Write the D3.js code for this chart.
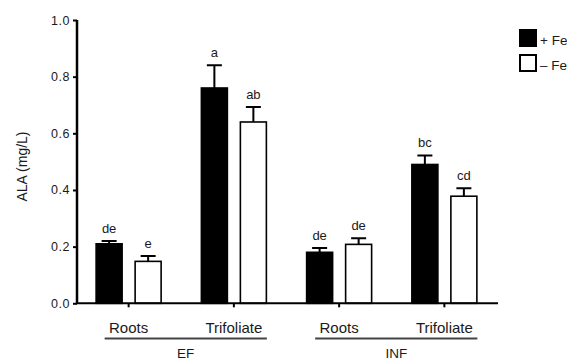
<!DOCTYPE html>
<html>
<head>
<meta charset="utf-8">
<script src="https://cdn.jsdelivr.net/npm/d3@7"></script>
<style>
  body { margin: 0; background: #fff; }
  svg text { font-family: "Liberation Sans", Arial, Helvetica, sans-serif; fill: #1a1a1a; }
</style>
</head>
<body>
<div id="chart"></div>
<script>
// chart values
var plantParts = ["Roots", "Trifoliate", "Roots", "Trifoliate"];
var treatments = ["EF", "EF", "INF", "INF"];
var seriesNames = ["+ Fe", "\u2013 Fe"];
var plusFe = [0.21, 0.76, 0.18, 0.49];
var plusFeErr = [0.010, 0.080, 0.015, 0.032];
var minusFe = [0.148, 0.64, 0.208, 0.378];
var minusFeErr = [0.019, 0.053, 0.022, 0.028];
var plusFeLetters = ["de", "a", "de", "bc"];
var minusFeLetters = ["e", "ab", "de", "cd"];
var yTicks = [0, 0.2, 0.4, 0.6, 0.8, 1.0];

var svgWidth = 567;
var svgHeight = 362;

var svg = d3.select("#chart")
  .append("svg")
  .attr("width", svgWidth)
  .attr("height", svgHeight);

var keys = plantParts.map(function(p, i) { return treatments[i] + " " + p; });

var x = d3.scaleBand()
  .domain(keys)
  .range([76, 497]);

var xInner = d3.scaleBand()
  .domain(seriesNames)
  .range([-32.5, 32.5])
  .paddingInner(1 / 3);

var y = d3.scaleLinear()
  .domain([0, 1])
  .range([303.3, 20]);

// build rows for bars
var rows = [];
keys.forEach(function(k, i) {
  rows.push({ key: k, series: seriesNames[0], value: plusFe[i], err: plusFeErr[i], letter: plusFeLetters[i], fill: "#000" });
  rows.push({ key: k, series: seriesNames[1], value: minusFe[i], err: minusFeErr[i], letter: minusFeLetters[i], fill: "#fff" });
});

var barX = function(d) { return x(d.key) + x.bandwidth() / 2 + xInner(d.series); };
var barMid = function(d) { return barX(d) + xInner.bandwidth() / 2; };

// error bars
svg.selectAll(".err")
  .data(rows)
  .enter()
  .append("path")
  .attr("class", "err")
  .attr("d", function(d) {
    var top = y(d.value + d.err);
    var m = barMid(d);
    return "M" + m + "," + y(d.value) + "V" + top + "M" + (m - 7.5) + "," + top + "H" + (m + 7.5);
  })
  .attr("stroke", "#000")
  .attr("stroke-width", 2)
  .attr("fill", "none");

// bars
svg.selectAll(".bar")
  .data(rows)
  .enter()
  .append("rect")
  .attr("class", "bar")
  .attr("x", barX)
  .attr("y", function(d) { return y(d.value); })
  .attr("width", xInner.bandwidth())
  .attr("height", function(d) { return y(0) - y(d.value); })
  .attr("fill", function(d) { return d.fill; })
  .attr("stroke", "#000")
  .attr("stroke-width", 1.6);

// significance letters
svg.selectAll(".letter")
  .data(rows)
  .enter()
  .append("text")
  .attr("class", "letter")
  .attr("x", barMid)
  .attr("y", function(d) { return y(d.value + d.err) - 8; })
  .attr("text-anchor", "middle")
  .attr("font-size", "13px")
  .text(function(d) { return d.letter; });

// y axis
var leftAxis = d3.axisLeft(y)
  .tickValues(yTicks)
  .tickFormat(d3.format(".1f"))
  .tickSize(4)
  .tickPadding(3);

var yAxisG = svg.append("g")
  .attr("transform", "translate(77,0)")
  .call(leftAxis);
yAxisG.select(".domain").attr("stroke-width", 2.5).attr("d", "M0," + y(1) + "V" + y(0));
yAxisG.selectAll(".tick line").attr("stroke-width", 2);
yAxisG.selectAll(".tick text")
  .attr("font-size", "12.5px")
  .attr("letter-spacing", "0.5px")
  .attr("fill", "#1a1a1a");

// x axis
var bottomAxis = d3.axisBottom(x)
  .tickSize(4)
  .tickFormat("");

var xAxisG = svg.append("g")
  .attr("transform", "translate(0," + y(0) + ")")
  .call(bottomAxis);
xAxisG.select(".domain").attr("stroke-width", 2).attr("d", "M76,0H498");
xAxisG.selectAll(".tick line").attr("stroke-width", 2);

// category labels
svg.selectAll(".part")
  .data(keys)
  .enter()
  .append("text")
  .attr("class", "part")
  .attr("x", function(d) { return x(d) + x.bandwidth() / 2; })
  .attr("y", 333)
  .attr("text-anchor", "middle")
  .attr("font-size", "15px")
  .text(function(d, i) { return plantParts[i]; });

// treatment group underlines + labels
var groups = d3.groups(keys, function(d) { return d.split(" ")[0]; });
groups.forEach(function(g) {
  var first = x(g[1][0]) + x.bandwidth() / 2;
  var last = x(g[1][g[1].length - 1]) + x.bandwidth() / 2;
  var x0 = first - 24;
  var x1 = last + 33;
  svg.append("line")
    .attr("x1", x0)
    .attr("x2", x1)
    .attr("y1", 338.5)
    .attr("y2", 338.5)
    .attr("stroke", "#444")
    .attr("stroke-width", 2);
  svg.append("text")
    .attr("x", (x0 + x1) / 2)
    .attr("y", 358)
    .attr("text-anchor", "middle")
    .attr("font-size", "13.5px")
    .text(g[0]);
});

// y axis title
svg.append("text")
  .attr("transform", "translate(27,166.5) rotate(-90)")
  .attr("text-anchor", "middle")
  .attr("font-size", "14px")
  .text("ALA (mg/L)");

// legend
var legend = svg.selectAll(".legend")
  .data(seriesNames)
  .enter()
  .append("g")
  .attr("class", "legend")
  .attr("transform", function(d, i) { return "translate(520," + (30 + i * 25) + ")"; });

legend.append("rect")
  .attr("width", 16)
  .attr("height", 16)
  .attr("fill", function(d, i) { return i === 0 ? "#000" : "#fff"; })
  .attr("stroke", "#000")
  .attr("stroke-width", 2);

legend.append("text")
  .attr("x", 20)
  .attr("y", 14.5)
  .attr("font-size", "13.5px")
  .text(function(d) { return d; });
</script>
</body>
</html>
